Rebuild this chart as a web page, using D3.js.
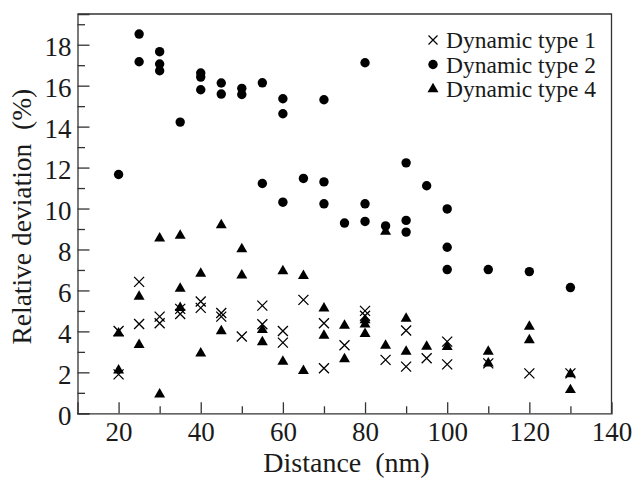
<!DOCTYPE html>
<html>
<head>
<meta charset="utf-8">
<script src="https://cdn.jsdelivr.net/npm/d3@7"></script>
</head>
<body style="margin:0">
<svg id="chart" width="632" height="478" font-family="Liberation Serif"></svg>
<script>
// Relative deviation vs distance, three dynamic types (scatter)

// [distance nm, relative deviation %]
const type1Points = [
  [20, 4.02], [20, 1.90], [25, 6.42], [25, 4.36], [30, 4.72], [30, 4.40],
  [35, 5.10], [35, 4.85], [40, 5.46], [40, 5.15], [45, 4.90], [45, 4.72],
  [50, 3.75], [55, 5.26], [55, 4.35], [60, 4.02], [60, 3.45], [65, 5.54],
  [70, 4.40], [70, 2.20], [75, 3.32], [80, 5.00], [80, 4.76], [85, 2.61],
  [90, 4.04], [90, 2.28], [95, 2.69], [100, 3.50], [100, 2.39], [110, 2.44],
  [120, 1.95], [130, 1.95]
];

const type2Points = [
  [20, 11.66], [25, 18.52], [25, 17.17], [30, 17.66], [30, 17.06], [30, 16.73],
  [35, 14.22], [40, 16.62], [40, 16.42], [40, 15.80], [45, 16.13], [45, 15.59],
  [50, 15.87], [50, 15.57], [55, 16.14], [55, 11.22], [60, 15.36], [60, 14.63],
  [60, 10.31], [65, 11.47], [70, 15.31], [70, 11.30], [70, 10.23], [75, 9.29],
  [80, 17.12], [80, 10.23], [80, 9.37], [85, 9.15], [90, 12.23], [90, 9.42],
  [90, 8.85], [95, 11.11], [100, 9.98], [100, 8.11], [100, 7.02], [110, 7.02],
  [120, 6.92], [130, 6.14]
];

const type4Points = [
  [20, 3.91], [20, 2.10], [25, 5.70], [25, 3.34], [30, 8.55], [30, 0.93],
  [35, 8.68], [35, 6.09], [35, 5.15], [40, 6.82], [40, 2.93], [45, 9.19],
  [45, 4.02], [50, 8.02], [50, 6.74], [55, 4.07], [55, 3.48], [60, 6.95],
  [60, 2.52], [65, 6.71], [65, 2.07], [70, 5.13], [70, 3.79], [75, 4.28],
  [75, 2.65], [80, 4.55], [80, 4.35], [80, 3.88], [85, 8.88], [85, 3.31],
  [90, 4.63], [90, 3.01], [95, 3.26], [100, 3.25], [110, 3.01], [110, 2.44],
  [120, 4.23], [120, 3.58], [130, 1.92], [130, 1.14]
];

const legendLabels = ["Dynamic type 1", "Dynamic type 2", "Dynamic type 4"];
const xMajorTicks = [20, 40, 60, 80, 100, 120, 140];
const xMinorTicks = [30, 50, 70, 90, 110, 130];
const yMajorTicks = [0, 2, 4, 6, 8, 10, 12, 14, 16, 18];
const yMinorTicks = [1, 3, 5, 7, 9, 11, 13, 15, 17, 19];

const width = 632, height = 478;
const margin = { top: 14, right: 20.5, bottom: 64.7, left: 77.5 };
const axisColor = "#333";
const textColor = "#1a1a1a";
const serif = "Liberation Serif";

const svg = d3.select("#chart");

const x = d3.scaleLinear()
  .domain([10, 140])
  .range([margin.left, width - margin.right]);

const y = d3.scaleLinear()
  .domain([0, 19.5])
  .range([height - margin.bottom, margin.top]);

// frame: top and right edges
svg.append("path")
  .attr("d", `M${x(10)},${y(19.5)}H${x(140)}V${y(0)}`)
  .attr("fill", "none")
  .attr("stroke", axisColor)
  .attr("stroke-width", 1.3);

// x axis, ticks pointing inward
const xAxisG = svg.append("g")
  .attr("transform", `translate(0,${y(0)})`)
  .call(d3.axisBottom(x).tickValues(xMajorTicks).tickSize(-11).tickPadding(9).tickFormat(d3.format("d")));

svg.append("g")
  .attr("transform", `translate(0,${y(0)})`)
  .call(d3.axisBottom(x).tickValues(xMinorTicks).tickSize(-7).tickFormat(""))
  .select(".domain").remove();

// y axis
const yAxisG = svg.append("g")
  .attr("transform", `translate(${x(10)},0)`)
  .call(d3.axisLeft(y).tickValues(yMajorTicks).tickSize(-12).tickPadding(6).tickFormat(d3.format("d")));

svg.append("g")
  .attr("transform", `translate(${x(10)},0)`)
  .call(d3.axisLeft(y).tickValues(yMinorTicks).tickSize(-7.5).tickFormat(""))
  .select(".domain").remove();

svg.selectAll("g")
  .attr("font-family", serif)
  .attr("font-size", 27);

svg.selectAll(".domain, .tick line")
  .attr("stroke", axisColor)
  .attr("stroke-width", 1.3);

// drop the tick on the right frame edge
xAxisG.selectAll(".tick").filter(d => d === 140).select("line").remove();

svg.selectAll(".tick text")
  .attr("fill", textColor)
  .attr("font-family", serif)
  .attr("font-size", 27);

yAxisG.selectAll(".tick text").attr("dy", "0.4em");

// axis titles
svg.append("text")
  .attr("x", (x(10) + x(140)) / 2 + 2)
  .attr("y", 472)
  .attr("text-anchor", "middle")
  .attr("fill", textColor)
  .attr("font-family", serif)
  .attr("font-size", 28)
  .attr("xml:space", "preserve")
  .text("Distance  (nm)");

svg.append("text")
  .attr("transform", `translate(31,${(y(0) + y(19.5)) / 2 + 3}) rotate(-90)`)
  .attr("text-anchor", "middle")
  .attr("fill", textColor)
  .attr("font-family", serif)
  .attr("font-size", 27.5)
  .attr("xml:space", "preserve")
  .text("Relative deviation  (%)");

// markers
const crossPath = "M-5,-5L5,5M-5,5L5,-5";
const triangle = d3.symbol().type(d3.symbolTriangle).size(52);

const plot = svg.append("g");

plot.selectAll("path.t4")
  .data(type4Points)
  .enter()
  .append("path")
  .attr("class", "t4")
  .attr("d", triangle)
  .attr("transform", d => `translate(${x(d[0])},${y(d[1])})`)
  .attr("fill", "#000");

plot.selectAll("circle.t2")
  .data(type2Points)
  .enter()
  .append("circle")
  .attr("class", "t2")
  .attr("cx", d => x(d[0]))
  .attr("cy", d => y(d[1]))
  .attr("r", 4.7)
  .attr("fill", "#000");

plot.selectAll("path.t1")
  .data(type1Points)
  .enter()
  .append("path")
  .attr("class", "t1")
  .attr("d", crossPath)
  .attr("transform", d => `translate(${x(d[0])},${y(d[1])})`)
  .attr("fill", "none")
  .attr("stroke", "#000")
  .attr("stroke-width", 1.3);

// legend
const legend = svg.append("g").attr("transform", "translate(433,40)");

const legendRows = legend.selectAll("g.legend-row")
  .data(legendLabels)
  .enter()
  .append("g")
  .attr("class", "legend-row")
  .attr("transform", (_, i) => `translate(0,${i * 24.5})`);

legendRows.filter((_, i) => i === 0).append("path")
  .attr("d", "M-4.5,-4.5L4.5,4.5M-4.5,4.5L4.5,-4.5")
  .attr("stroke", "#000")
  .attr("stroke-width", 1.2);

legendRows.filter((_, i) => i === 1).append("circle")
  .attr("r", 4.7)
  .attr("fill", "#000");

legendRows.filter((_, i) => i === 2).append("path")
  .attr("d", triangle)
  .attr("fill", "#000");

legendRows.append("text")
  .attr("x", 13)
  .attr("y", 8)
  .attr("fill", textColor)
  .attr("font-family", serif)
  .attr("font-size", 23.5)
  .text(d => d);
</script>
</body>
</html>
